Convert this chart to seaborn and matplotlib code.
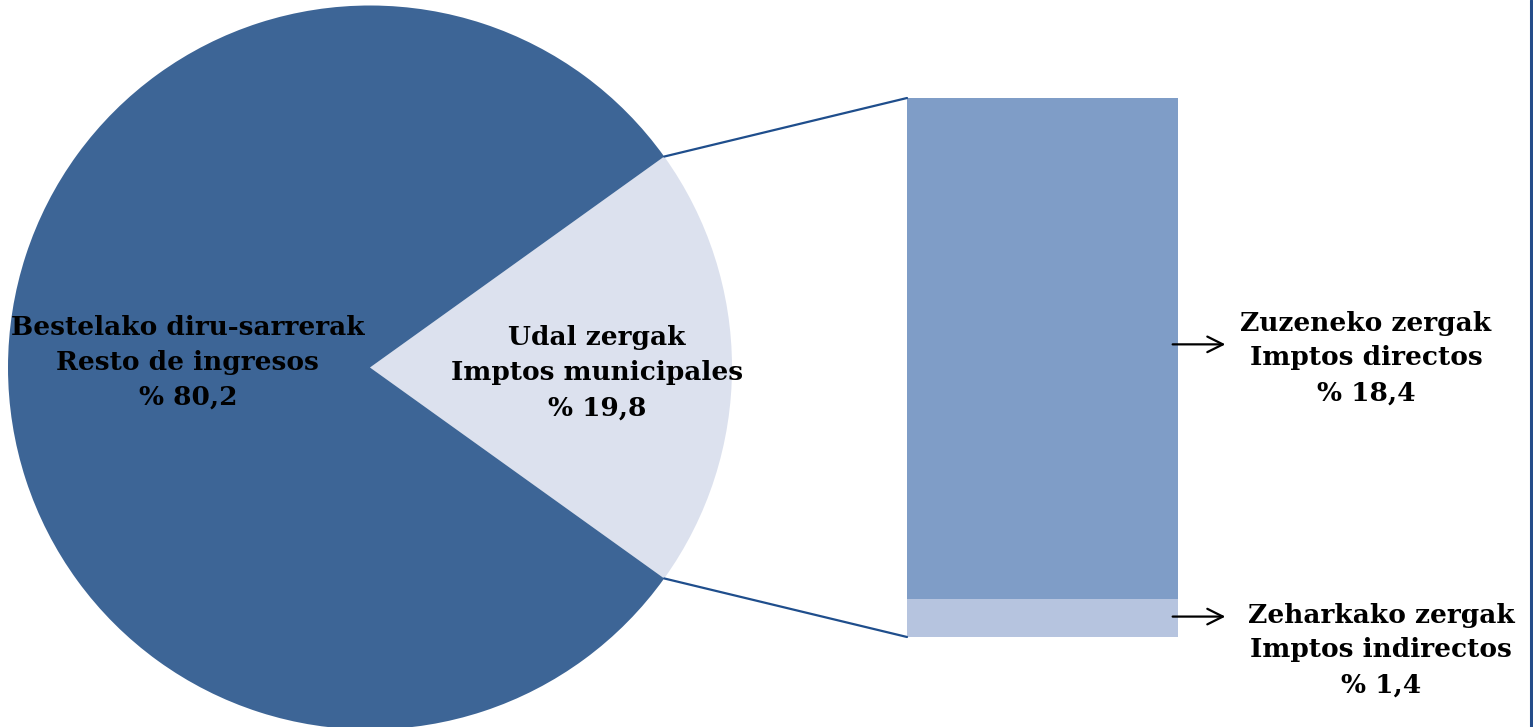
import numpy as np
import matplotlib
matplotlib.use("Agg")
import matplotlib.pyplot as plt
from matplotlib.patches import ConnectionPatch
from matplotlib.lines import Line2D
import seaborn as sns

sns.set_theme(style="white")
plt.rcParams["font.family"] = ["DejaVu Serif"]

# data
pie_labels = ["Udal zergak\nImptos municipales", "Bestelako diru-sarrerak\nResto de ingresos"]
pie_values = [19.8, 80.2]
pie_colors = ["#DCE1EE", "#3D6596"]

bar_labels = ["Zuzeneko zergak\nImptos directos", "Zeharkako zergak\nImptos indirectos"]
bar_values = [18.4, 1.4]
bar_colors = ["#7F9DC7", "#B6C4DF"]

W, H = 1533, 727
LINE = "#1F4E8C"
FS = 19
LS = 1.5


def px(x, y):
    """pixel position (top-left origin) -> figure fraction"""
    return x / W, 1 - y / H


def pct(v):
    return "% " + f"{v:.1f}".replace(".", ",")


fig = plt.figure(figsize=(W / 100, H / 100), dpi=100)
fig.patch.set_facecolor("white")

# ── pie ──
cx, cy, r = 370, 367.5, 362
ax_pie = fig.add_axes([(cx - r) / W, 1 - (cy + r) / H, 2 * r / W, 2 * r / H])
start = -pie_values[0] / sum(pie_values) * 180
wedges, _ = ax_pie.pie(pie_values, colors=pie_colors, startangle=start,
                       counterclock=True, radius=1,
                       wedgeprops=dict(linewidth=0))
ax_pie.set_xlim(-1, 1)
ax_pie.set_ylim(-1, 1)
ax_pie.set_aspect("auto")
ax_pie.axis("off")

label_r = [0.627, 0.503]
for w, lab, val, lr in zip(wedges, pie_labels, pie_values, label_r):
    mid = np.deg2rad((w.theta1 + w.theta2) / 2)
    ax_pie.text(lr * np.cos(mid), lr * np.sin(mid) - (0.015 if lr > 0.6 else -0.015),
                f"{lab}\n{pct(val)}",
                ha="center", va="center", fontsize=FS, fontweight="bold",
                linespacing=LS, color="black")

# ── stacked bar ──
ax_bar = fig.add_axes([907 / W, 1 - 637 / H, (1178 - 907) / W, (637 - 98) / H])
total = sum(bar_values)
sns.barplot(x=["x"], y=[total], color=bar_colors[0], width=1,
            saturation=1, ax=ax_bar, linewidth=0)
sns.barplot(x=["x"], y=[bar_values[1]], color=bar_colors[1], width=1,
            saturation=1, ax=ax_bar, linewidth=0)
ax_bar.set_xlim(-0.5, 0.5)
ax_bar.set_ylim(0, total)
ax_bar.axis("off")

# arrows + labels for bar segments
mids = [bar_values[1] + bar_values[0] / 2, bar_values[1] / 2]
text_pos = [(1366, 358), (1381, 650)]
for lab, val, m, tp in zip(bar_labels, bar_values, mids, text_pos):
    ax_bar.annotate("", xy=(1.185, m + (0.15 if m > 5 else 0.05)),
                    xytext=(0.97, m + (0.15 if m > 5 else 0.05)),
                    xycoords=ax_bar.get_yaxis_transform(),
                    textcoords=ax_bar.get_yaxis_transform(),
                    arrowprops=dict(arrowstyle="->", color="black", lw=1.6,
                                    mutation_scale=28),
                    annotation_clip=False)
    fig.text(*px(*tp), f"{lab}\n{pct(val)}", ha="center", va="center",
             fontsize=FS, fontweight="bold", linespacing=LS, color="black")

# connector lines from the small slice to the bar
w = wedges[0]
for ang, ycorner in [(w.theta2, total), (w.theta1, 0)]:
    a = np.deg2rad(ang)
    con = ConnectionPatch(xyA=(np.cos(a), np.sin(a)), coordsA=ax_pie.transData,
                          xyB=(-0.5, ycorner), coordsB=ax_bar.transData,
                          color=LINE, lw=1.6)
    fig.add_artist(con)

# right border line
fig.add_artist(Line2D([1531 / W, 1531 / W], [0, 1], transform=fig.transFigure,
                      color="#254D8A", lw=2.2))

fig.savefig("out.png", dpi=100, facecolor="white")
